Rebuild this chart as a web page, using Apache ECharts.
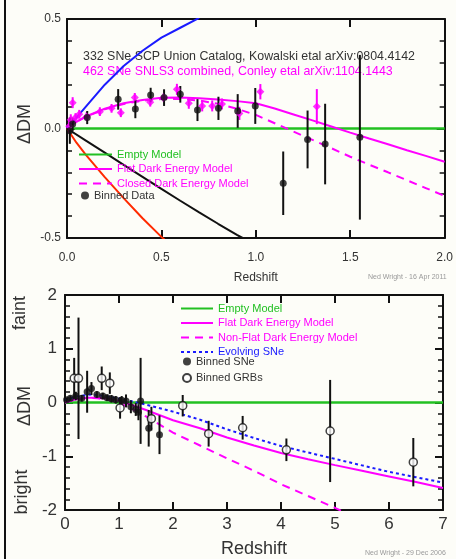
<!DOCTYPE html>
<html>
<head>
<meta charset="utf-8">
<script src="https://cdn.jsdelivr.net/npm/echarts@6/dist/echarts.min.js"></script>
<style>
html,body{margin:0;padding:0;background:#fdfdf8;}
#main{width:456px;height:559px;}
</style>
</head>
<body>
<div id="main"></div>
<script>
// ---- top panel (0 < z < 2) ----
var emptyTop = [[0, 0], [2, 0]];
var flatTop = [[0,0],[0.05,0.03],[0.1,0.055],[0.2,0.09],[0.3,0.115],[0.4,0.13],[0.5,0.14],[0.6,0.142],[0.7,0.138],[0.8,0.132],[0.9,0.125],[1.0,0.115],[1.1,0.091],[1.2,0.064],[1.3,0.037],[1.4,0.009],[1.5,-0.019],[1.6,-0.046],[1.7,-0.072],[1.8,-0.099],[1.9,-0.125],[2.0,-0.152]];
var closedTop = [[0,0],[0.05,0.03],[0.1,0.054],[0.2,0.088],[0.3,0.112],[0.4,0.127],[0.5,0.135],[0.6,0.135],[0.7,0.128],[0.8,0.113],[0.9,0.09],[1.0,0.062],[1.1,0.024],[1.2,-0.014],[1.3,-0.052],[1.4,-0.09],[1.5,-0.129],[1.6,-0.165],[1.7,-0.2],[1.8,-0.236],[1.9,-0.272],[2.0,-0.308]];
var blueTop = [[0,0],[0.05,0.05],[0.1,0.1],[0.2,0.2],[0.3,0.285],[0.4,0.355],[0.5,0.415],[0.6,0.46],[0.7,0.505]];
var redTop = [[0,0],[0.05,-0.065],[0.1,-0.12],[0.2,-0.222],[0.3,-0.318],[0.4,-0.41],[0.5,-0.495],[0.52,-0.51]];
var blackTop = [[0,0],[0.1,-0.055],[0.2,-0.11],[0.3,-0.166],[0.4,-0.221],[0.5,-0.276],[0.6,-0.33],[0.7,-0.383],[0.8,-0.435],[0.9,-0.486],[0.93,-0.5]];
// [z, dDM, error]
var binnedTop = [[0.015,-0.01,0.06],[0.03,0.02,0.03],[0.107,0.05,0.03],[0.271,0.133,0.047],[0.362,0.089,0.042],[0.443,0.153,0.033],[0.514,0.141,0.038],[0.6,0.156,0.038],[0.691,0.084,0.05],[0.802,0.092,0.053],[0.904,0.08,0.077],[0.997,0.103,0.082],[1.145,-0.25,0.145],[1.274,-0.05,0.132],[1.367,-0.071,0.184],[1.551,-0.04,0.376]];
var snls3Top = [[0.012,0.01,0.03],[0.02,0.04,0.025],[0.03,0.118,0.025],[0.045,0.05,0.02],[0.065,0.065,0.02],[0.104,0.054,0.02],[0.174,0.077,0.02],[0.236,0.092,0.02],[0.285,0.072,0.02],[0.359,0.142,0.02],[0.441,0.12,0.02],[0.512,0.141,0.02],[0.582,0.179,0.025],[0.645,0.115,0.025],[0.716,0.103,0.025],[0.769,0.103,0.025],[0.821,0.112,0.025],[0.913,0.069,0.03],[1.024,0.168,0.035],[1.323,0.1,0.08]];

// ---- bottom panel (0 < z < 7) ----
var emptyBot = [[0, 0], [7, 0]];
var flatBot = [[0,0],[0.2,0.06],[0.4,0.09],[0.6,0.09],[0.8,0.07],[1.0,0.03],[1.25,-0.05],[1.5,-0.14],[2,-0.33],[2.5,-0.48],[3,-0.65],[3.5,-0.8],[4,-0.94],[4.5,-1.055],[5,-1.165],[5.5,-1.27],[6,-1.375],[6.5,-1.48],[7,-1.59]];
var nonFlatBot = [[0,0],[0.2,0.06],[0.4,0.085],[0.6,0.08],[0.8,0.05],[1.0,-0.01],[1.25,-0.12],[1.5,-0.26],[2,-0.56],[2.5,-0.8],[3,-1.04],[3.5,-1.27],[4,-1.52],[4.5,-1.74],[5,-1.96],[5.15,-2.03]];
var evolvBot = [[0,0.05],[0.25,0.12],[0.5,0.15],[0.75,0.12],[1.0,0.07],[1.25,0.02],[1.5,-0.04],[2,-0.17],[2.5,-0.32],[3,-0.5],[3.5,-0.66],[4,-0.81],[4.5,-0.93],[5,-1.05],[5.5,-1.17],[6,-1.29],[6.5,-1.39],[7,-1.49]];
var snBot = [[0.03,0.05,0.04],[0.1,0.08,0.05],[0.2,0.12,0.08],[0.31,0.08,0.06],[0.41,0.2,0.39],[0.49,0.26,0.12],[0.59,0.15,0.06],[0.7,0.12,0.06],[0.78,0.09,0.06],[0.86,0.07,0.07],[0.94,0.05,0.07],[1.05,0.04,0.08],[1.13,0.03,0.12],[1.22,-0.08,0.12],[1.31,-0.13,0.12],[1.36,-0.18,0.15],[1.4,0.03,0.8],[1.55,-0.48,0.34],[1.75,-0.6,0.36]];
var grbBot = [[0.17,0.45,0.38],[0.25,0.45,1.13],[0.68,0.45,0.22],[0.83,0.36,0.2],[1.02,-0.1,0.2],[1.6,-0.3,0.22],[2.18,-0.06,0.2],[2.66,-0.58,0.24],[3.29,-0.47,0.22],[4.1,-0.88,0.21],[4.91,-0.53,0.95],[6.45,-1.11,0.45]];

var GREEN = '#22c022', MAG = '#ff00ff', BLUE = '#1a1aff', RED = '#ff2a00', INK = '#111';

var myChart = echarts.init(document.getElementById('main'));

function errBars(color) {
	return function (params, api) {
		var x = api.value(0), y = api.value(1), e = api.value(2);
		var p1 = api.coord([x, y + e]), p2 = api.coord([x, y - e]);
		return {type: 'line', shape: {x1: p1[0], y1: p1[1], x2: p2[0], y2: p2[1]},
			style: {stroke: color, lineWidth: 2}};
	};
}

function xAx(grid, max, pos, fmt, fs, margin) {
	return {
		gridIndex: grid, type: 'value', min: 0, max: max, interval: max == 2 ? 0.5 : 1, position: pos,
		axisLine: {onZero: false, lineStyle: {color: INK, width: 2}},
		axisTick: {inside: true, length: 8, lineStyle: {color: INK, width: 2}},
		axisLabel: {show: pos == 'bottom', formatter: fmt, fontSize: fs, color: '#333', margin: margin, fontFamily: 'Liberation Sans'},
		splitLine: {show: false}
	};
}
function yAx(grid, min, max, pos, fmt, fs, margin) {
	return {
		gridIndex: grid, type: 'value', min: min, max: max, interval: max == 2 ? 1 : 0.5, position: pos,
		axisLine: {onZero: false, lineStyle: {color: INK, width: 2}},
		axisTick: {inside: true, length: 8, lineStyle: {color: INK, width: 2}},
		minorTick: {show: true, splitNumber: 5, length: 5, lineStyle: {color: INK, width: 1.5}},
		axisLabel: {show: pos == 'left', formatter: fmt, fontSize: fs, color: '#333', margin: margin, fontFamily: 'Liberation Sans'},
		splitLine: {show: false}
	};
}

var f1 = function (v) { return v.toFixed(1); };
var f0 = function (v) { return String(v); };

var xAxes = [xAx(0, 2, 'bottom', f1, 12, 14), xAx(0, 2, 'top', f1, 12, 14), xAx(1, 7, 'bottom', f0, 17, 6), xAx(1, 7, 'top', f0, 17, 6)];
xAxes[0].name = 'Redshift'; xAxes[0].nameLocation = 'middle'; xAxes[0].nameGap = 34;
xAxes[0].nameTextStyle = {fontSize: 12, color: '#333', fontFamily: 'Liberation Sans'};
xAxes[2].name = 'Redshift'; xAxes[2].nameLocation = 'middle'; xAxes[2].nameGap = 30;
xAxes[2].nameTextStyle = {fontSize: 18, color: '#333', fontFamily: 'Liberation Sans'};

var yAxes = [yAx(0, -0.5, 0.5, 'left', f1, 12, 6), yAx(0, -0.5, 0.5, 'right', f1, 12, 6), yAx(1, -2, 2, 'left', f0, 17, 8), yAx(1, -2, 2, 'right', f0, 17, 8)];

function line(name, data, xi, yi, color, type, w) {
	// itemStyle opacity 0 keeps the legend icon a bare line
	return {name: name, type: 'line', xAxisIndex: xi, yAxisIndex: yi, data: data, symbol: 'none', clip: true,
		lineStyle: {color: color, width: w || 2, type: type || 'solid'}, itemStyle: {color: color, opacity: 0}, z: 2, silent: true};
}

var series = [
	line('Empty Model', emptyTop, 0, 0, GREEN, 'solid', 2.5),
	line('Flat Dark Energy Model', flatTop, 0, 0, MAG),
	line('Closed Dark Energy Model', closedTop, 0, 0, MAG, [8, 6]),
	line('blue', blueTop, 0, 0, BLUE),
	line('red', redTop, 0, 0, RED),
	line('black', blackTop, 0, 0, INK),
	{type: 'custom', xAxisIndex: 0, yAxisIndex: 0, data: snls3Top, renderItem: errBars(MAG), encode: {x: 0, y: 1}, z: 3, silent: true},
	{name: 'SNLS3', type: 'scatter', xAxisIndex: 0, yAxisIndex: 0, data: snls3Top, symbol: 'diamond', symbolSize: 8, itemStyle: {color: MAG}, z: 4, silent: true},
	{type: 'custom', xAxisIndex: 0, yAxisIndex: 0, data: binnedTop, renderItem: errBars(INK), encode: {x: 0, y: 1}, z: 3, silent: true},
	{name: 'Binned Data', type: 'scatter', xAxisIndex: 0, yAxisIndex: 0, data: binnedTop, symbolSize: 7, itemStyle: {color: INK}, z: 4, silent: true},

	line('Empty Model', emptyBot, 2, 2, GREEN, 'solid', 2.5),
	line('Flat Dark Energy Model', flatBot, 2, 2, MAG),
	line('Non-Flat Dark Energy Model', nonFlatBot, 2, 2, MAG, [8, 6]),
	line('Evolving SNe', evolvBot, 2, 2, BLUE, [3, 3]),
	{type: 'custom', xAxisIndex: 2, yAxisIndex: 2, data: snBot, renderItem: errBars(INK), encode: {x: 0, y: 1}, z: 3, silent: true},
	{type: 'custom', xAxisIndex: 2, yAxisIndex: 2, data: grbBot, renderItem: errBars(INK), encode: {x: 0, y: 1}, z: 3, silent: true},
	{name: 'Binned SNe', type: 'scatter', xAxisIndex: 2, yAxisIndex: 2, data: snBot, symbolSize: 7, itemStyle: {color: INK}, z: 4, silent: true},
	{name: 'Binned GRBs', type: 'scatter', xAxisIndex: 2, yAxisIndex: 2, data: grbBot, symbolSize: 8, itemStyle: {color: '#fff', borderColor: INK, borderWidth: 1.5}, z: 5, silent: true}
];

var lgText = {fontSize: 11, fontFamily: 'Liberation Sans'};

myChart.setOption({
	animation: false,
	grid: [
		{left: 67, right: 10, top: 19, height: 219},
		{left: 65, right: 13, top: 295, height: 220}
	],
	xAxis: xAxes,
	yAxis: yAxes,
	legend: [
		{orient: 'vertical', left: 78, top: 149, padding: 0, itemWidth: 33, itemHeight: 10, itemGap: 3.5, selectedMode: false, textStyle: lgText,
			data: [{name: 'Empty Model', textStyle: {color: GREEN}}, {name: 'Flat Dark Energy Model', textStyle: {color: MAG}}, {name: 'Closed Dark Energy Model', textStyle: {color: MAG}}]},
		{orient: 'vertical', left: 81, top: 190, padding: 0, itemWidth: 8, itemHeight: 8, selectedMode: false, textStyle: lgText,
			data: [{name: 'Binned Data', icon: 'circle', textStyle: {color: '#333'}}]},
		{orient: 'vertical', left: 180, top: 303, padding: 0, itemWidth: 32, itemHeight: 10, itemGap: 3.5, selectedMode: false, textStyle: lgText,
			data: [{name: 'Empty Model', textStyle: {color: GREEN}}, {name: 'Flat Dark Energy Model', textStyle: {color: MAG}}, {name: 'Non-Flat Dark Energy Model', textStyle: {color: MAG}}, {name: 'Evolving SNe', textStyle: {color: BLUE}}]},
		{orient: 'vertical', left: 182, top: 356, padding: 0, itemWidth: 8, itemHeight: 8, itemGap: 5.5, selectedMode: false, textStyle: lgText,
			data: [{name: 'Binned SNe', icon: 'circle', textStyle: {color: '#333'}}, {name: 'Binned GRBs', icon: 'circle', textStyle: {color: '#333'}}]}
	],
	graphic: [
		{type: 'rect', left: 4, top: 0, shape: {width: 2, height: 559}, style: {fill: INK}, silent: true},
		{type: 'text', x: 83, y: 57, style: {text: '332 SNe SCP Union Catalog, Kowalski etal arXiv:0804.4142', fill: '#333', font: '12.4px "Liberation Sans"', textVerticalAlign: 'middle'}},
		{type: 'text', x: 83, y: 72, style: {text: '462 SNe SNLS3 combined, Conley etal arXiv:1104.1443', fill: MAG, font: '12.4px "Liberation Sans"', textVerticalAlign: 'middle'}},
		{type: 'text', x: 25, y: 124, rotation: Math.PI / 2, style: {text: 'ΔDM', fill: '#333', font: '18px "Liberation Sans"', textAlign: 'center', textVerticalAlign: 'middle'}},
		{type: 'text', x: 20, y: 313, rotation: Math.PI / 2, style: {text: 'faint', fill: '#333', font: '18px "Liberation Sans"', textAlign: 'center', textVerticalAlign: 'middle'}},
		{type: 'text', x: 25, y: 406, rotation: Math.PI / 2, style: {text: 'ΔDM', fill: '#333', font: '18px "Liberation Sans"', textAlign: 'center', textVerticalAlign: 'middle'}},
		{type: 'text', x: 22, y: 492, rotation: Math.PI / 2, style: {text: 'bright', fill: '#333', font: '18px "Liberation Sans"', textAlign: 'center', textVerticalAlign: 'middle'}},
		{type: 'text', x: 368, y: 277, style: {text: 'Ned Wright - 16 Apr 2011', fill: '#999', font: '7px "Liberation Sans"', textVerticalAlign: 'middle'}},
		{type: 'text', x: 365, y: 553, style: {text: 'Ned Wright - 29 Dec 2006', fill: '#999', font: '7px "Liberation Sans"', textVerticalAlign: 'middle'}}
	],
	series: series
});
</script>
</body>
</html>
